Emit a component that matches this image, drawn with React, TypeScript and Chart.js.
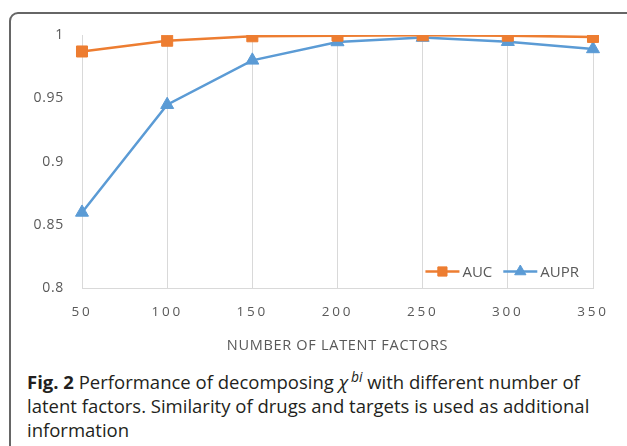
import React, { useEffect, useRef } from 'react';
import { Chart, registerables } from 'chart.js';
import { drawPoint } from 'chart.js/helpers';

Chart.register(...registerables);

const categories = ['50', '100', '150', '200', '250', '300', '350'];
const aucValues = [0.987, 0.9955, 0.999, 0.9995, 0.9998, 0.9995, 0.9985];
const auprValues = [0.86, 0.945, 0.98, 0.9945, 0.998, 0.9947, 0.989];
const seriesNames = ['AUC', 'AUPR'];
const seriesColors = ['#ED7D31', '#5B9BD5'];
const yMin = 0.8;
const yMax = 1;
const yStep = 0.05;
const xTitle = 'NUMBER OF LATENT FACTORS';

const FONT = '"Open Sans", "DejaVu Sans", sans-serif';
const GRAY = '#595959';

const legendPlugin = {
  id: 'inlineLegend',
  beforeDraw(chart: any) {
    chart.ctx.letterSpacing = '0.7px';
  },
  afterDatasetsDraw(chart: any) {
    chart.ctx.letterSpacing = '2.8px';
  },
  afterDraw(chart: any) {
    const ctx = chart.ctx;
    ctx.letterSpacing = '0px';
    const area = chart.chartArea;
    ctx.save();
    ctx.font = '15px ' + FONT;
    const lineLen = 34;
    const gapText = 3;
    const gapItem = 11;
    const items = chart.data.datasets.map((ds: any) => ({
      label: ds.label,
      color: ds.borderColor,
      style: ds.pointStyle,
      w: ctx.measureText(ds.label).width,
    }));
    const total =
      items.reduce((s: number, it: any) => s + lineLen + gapText + it.w, 0) +
      gapItem * (items.length - 1);
    let x = area.right - 14 - total;
    const y = area.bottom - 17;
    for (const it of items) {
      ctx.strokeStyle = it.color;
      ctx.lineWidth = 2.5;
      ctx.beginPath();
      ctx.moveTo(x, y);
      ctx.lineTo(x + lineLen, y);
      ctx.stroke();
      ctx.fillStyle = it.color;
      ctx.lineWidth = 1;
      drawPoint(ctx, { pointStyle: it.style, radius: 6.5, borderWidth: 1, rotation: 0 } as any, x + lineLen / 2, y);
      ctx.fillStyle = GRAY;
      ctx.textBaseline = 'middle';
      ctx.textAlign = 'left';
      ctx.fillText(it.label, x + lineLen + gapText, y + 1);
      x += lineLen + gapText + it.w + gapItem;
    }
    ctx.restore();
  },
};

function LineChart() {
  const ref = useRef<HTMLCanvasElement>(null);
  useEffect(() => {
    const canvas = ref.current!;
    const chart = new Chart(canvas, {
      type: 'line',
      data: {
        labels: categories,
        datasets: [
          {
            label: seriesNames[0],
            data: aucValues,
            borderColor: seriesColors[0],
            backgroundColor: seriesColors[0],
            borderWidth: 2.5,
            pointStyle: 'rect',
            pointRadius: 7.8,
            pointBorderWidth: 1,
            tension: 0,
          },
          {
            label: seriesNames[1],
            data: auprValues,
            borderColor: seriesColors[1],
            backgroundColor: seriesColors[1],
            borderWidth: 2.5,
            pointStyle: 'triangle',
            pointRadius: 7.5,
            pointBorderWidth: 1,
            tension: 0,
          },
        ],
      },
      options: {
        animation: false,
        responsive: false,
        layout: { padding: { left: 0, right: 34, top: 35, bottom: 0 } },
        plugins: { legend: { display: false }, tooltip: { enabled: false } },
        scales: {
          x: {
            type: 'category',
            offset: false,
            grid: { color: '#d9d9d9', lineWidth: 1, drawTicks: false },
            border: { color: '#d9d9d9', width: 1 },
            ticks: { color: GRAY, font: { family: FONT, size: 13.5 }, padding: 16, z: 1, maxRotation: 0, autoSkip: false },
            title: { display: true, text: xTitle, color: GRAY, font: { family: FONT, size: 14.5 }, padding: { top: 0, bottom: 5 } },
            afterFit: (s: any) => { s.height = 71.5; },
          },
          y: {
            min: yMin,
            max: yMax,
            grid: { display: false, drawTicks: false },
            border: { display: false },
            ticks: {
              stepSize: yStep,
              color: GRAY,
              font: { family: FONT, size: 14 },
              padding: 18,
              callback: (v: any) => String(+Number(v).toFixed(2)),
            },
            afterFit: (s: any) => { s.width = 82; },
          },
        },
      },
      plugins: [legendPlugin],
    });
    return () => chart.destroy();
  }, []);
  return (
    <canvas
      ref={ref}
      width={627}
      height={360}
      style={{ position: 'absolute', left: 0, top: 0, width: 627, height: 360 }}
    />
  );
}

export default function App() {
  return (
    <div style={{ position: 'fixed', left: 0, top: 0, width: 627, height: 446, overflow: 'hidden', background: '#fff' }}>
      <div
        style={{
          position: 'absolute',
          left: 9,
          top: 12,
          width: 700,
          height: 500,
          border: '2px solid #666',
          borderRadius: 9,
          boxSizing: 'border-box',
        }}
      />
      <LineChart />
      <div
        style={{
          position: 'absolute',
          left: 27,
          top: 370,
          whiteSpace: 'nowrap',
          fontFamily: FONT,
          fontSize: 18.5,
          lineHeight: '24px',
          color: '#231f20',
        }}
      >
        <b>Fig. 2</b> Performance of decomposing <i>χ</i>
        <sup style={{ fontSize: '0.75em', lineHeight: 0, marginLeft: 3 }}><i>bi</i></sup> with different number of
        <br />
        latent factors. Similarity of drugs and targets is used as additional
        <br />
        information
      </div>
    </div>
  );
}
